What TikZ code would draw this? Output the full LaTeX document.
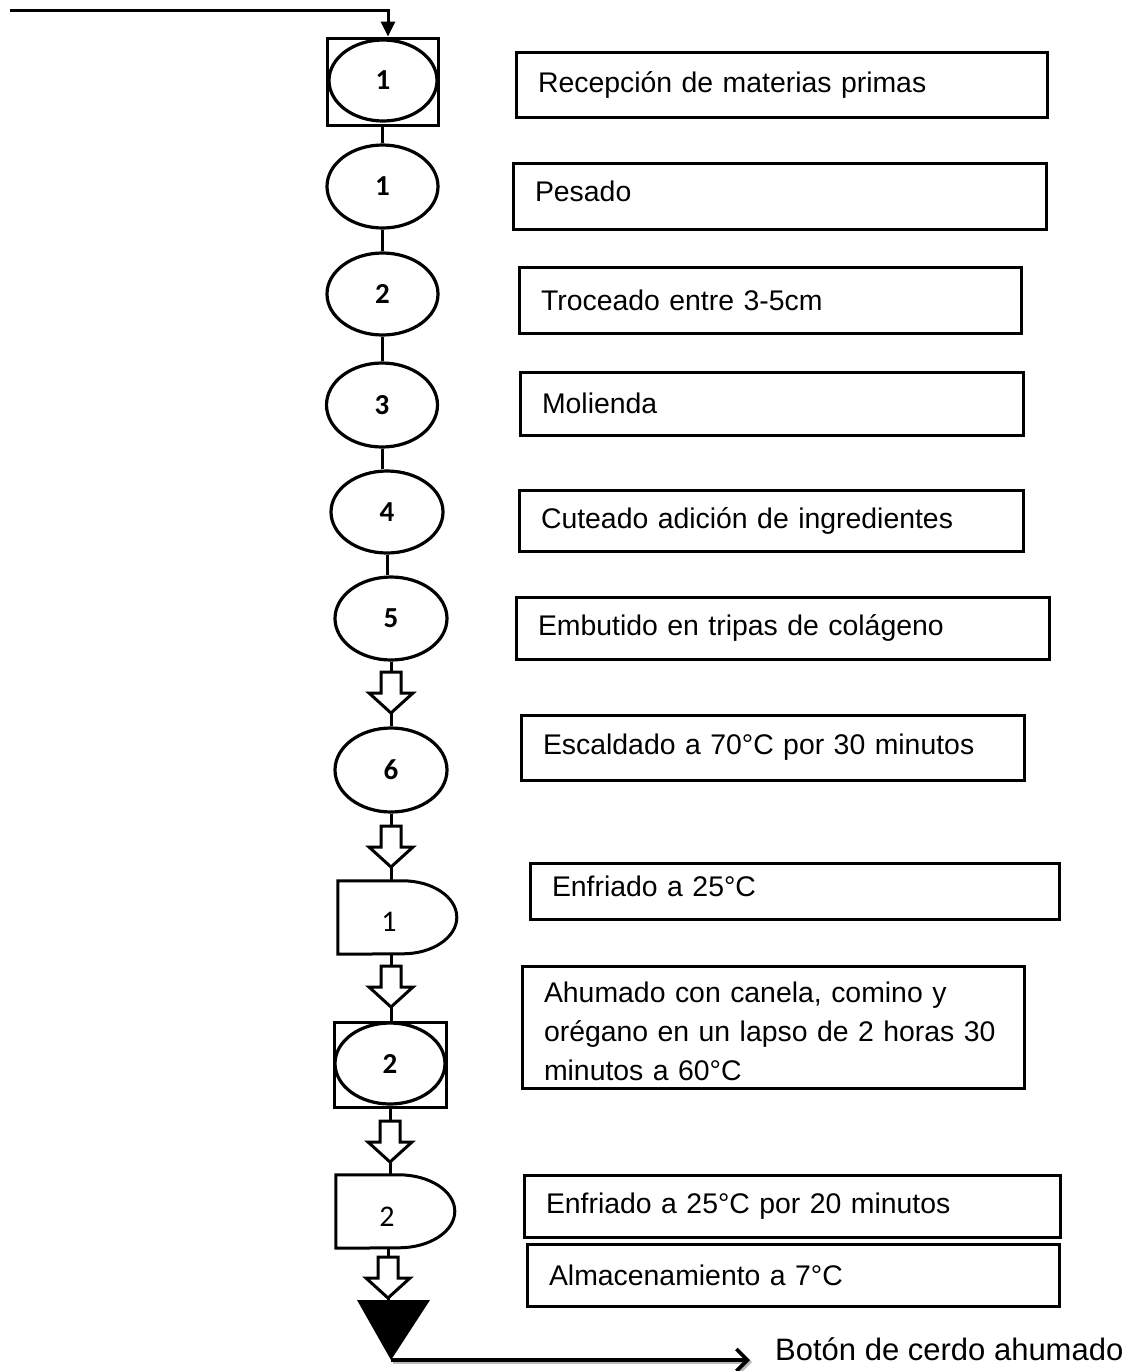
\documentclass[tikz,border=0pt]{standalone}
\usepackage{fontspec}
\setmainfont{Liberation Sans}
\newfontfamily\numfont{Carlito}
\usetikzlibrary{shapes.geometric,arrows.meta}

\tikzset{
 stepbox/.style={draw, line width=3pt, inner xsep=22pt, inner ysep=0pt, align=left, font=\fontsize{28.4}{39}\selectfont},
 opnode/.style={draw, ellipse, line width=3.2pt, inner sep=0pt, font=\numfont\bfseries\fontsize{29}{29}\selectfont},
 framebox/.style={draw, line width=3pt, inner sep=0pt},
 delaybox/.style={inner sep=0pt, minimum width=119pt, minimum height=73pt},
 delaynum/.style={inner sep=0pt, font=\numfont\fontsize{30}{30}\selectfont},
 link/.style={line width=3pt},
 hollow/.style={draw, line width=3pt, fill=white, line join=miter},
}

% hollow block arrow: name, top point
\newcommand{\blockarrow}[2]{%
 \coordinate (#1-top) at (#2);
 \draw[hollow] (#2) ++(-10,0) -- ++(0,21) -- ++(-12,0) -- ++(22,20) -- ++(22,-20) -- ++(-12,0) -- ++(0,-21) -- cycle;
 \path (#2) ++(0,41) coordinate (#1-tip);
}

\begin{document}
\begin{tikzpicture}[x=1pt,y=-1pt]
 \useasboundingbox (0,0) rectangle (1133,1371);

 % symbols
 \node[framebox, minimum width=111pt, minimum height=87pt] (f1) at (382.5,81.5) {};
 \node[opnode, minimum width=108pt, minimum height=81pt] (e0) at (383,80.5) {1};
 \node[opnode, minimum width=111pt, minimum height=83pt] (e1) at (382.5,186.5) {1};
 \node[opnode, minimum width=111pt, minimum height=82pt] (e2) at (382.5,294) {2};
 \node[opnode, minimum width=111pt, minimum height=84pt] (e3) at (382,405) {3};
 \node[opnode, minimum width=112pt, minimum height=82pt] (e4) at (387,512) {4};
 \node[opnode, minimum width=112pt, minimum height=83pt] (e5) at (391,618.5) {5};
 \node[opnode, minimum width=112pt, minimum height=84pt] (e6) at (391,770) {6};
 \node[delaybox] (d1) at (397.5,917.5) {};
 \draw[link, line join=miter] (d1.north west) -- ++(65,0) arc[start angle=90, end angle=-90, x radius=54pt, y radius=36.5pt] -- (d1.south west) -- cycle;
 \node[delaynum] (d1num) at (389,922) {1};
 \node[framebox, minimum width=112pt, minimum height=85pt] (f2) at (390,1064.5) {};
 \node[opnode, minimum width=110pt, minimum height=81pt] (e7) at (390,1063.5) {2};
 \node[delaybox] (d2) at (395.5,1211.5) {};
 \draw[link, line join=miter] (d2.north west) -- ++(63,0) arc[start angle=90, end angle=-90, x radius=56pt, y radius=36.5pt] -- (d2.south west) -- cycle;
 \node[delaynum] (d2num) at (387,1217) {2};

 % descriptions
 \node[stepbox, minimum width=531pt, minimum height=65pt, text width=487pt] (b0) at (781.5,84.5) {Recepción de materias primas};
 \node[stepbox, minimum width=533pt, minimum height=66pt, text width=489pt] (b1) at (779.5,196) {Pesado\rule[-10pt]{0pt}{0pt}};
 \node[stepbox, minimum width=502pt, minimum height=66pt, text width=458pt] (b2) at (770,300) {Troceado entre 3-5cm};
 \node[stepbox, minimum width=503pt, minimum height=63pt, text width=459pt] (b3) at (771.5,403.5) {Molienda};
 \node[stepbox, minimum width=504pt, minimum height=61pt, text width=460pt] (b4) at (771,520.5) {Cuteado adición de ingredientes};
 \node[stepbox, minimum width=533pt, minimum height=62pt, text width=489pt] (b5) at (782.5,628) {Embutido en tripas de colágeno};
 \node[stepbox, minimum width=503pt, minimum height=65pt, text width=459pt] (b6) at (772.5,747.5) {Escaldado a 70°C por 30 minutos};
 \node[stepbox, minimum width=529pt, minimum height=56pt, text width=485pt] (b7) at (794.5,891) {Enfriado a 25°C\rule[-9pt]{0pt}{0pt}};
 \node[stepbox, minimum width=502pt, minimum height=122pt, text width=458pt] (b8) at (773,1027) {\rule{0pt}{30pt}Ahumado con canela, comino y\\orégano en un lapso de 2 horas 30\\minutos a 60°C};
 \node[stepbox, minimum width=536pt, minimum height=62pt, text width=492pt] (b9) at (792,1206) {Enfriado a 25°C por 20 minutos};
 \node[stepbox, minimum width=532pt, minimum height=62pt, text width=488pt] (b10) at (793,1275) {Almacenamiento a 7°C};

 % entrada
 \coordinate (start) at (10,10);
 \coordinate (corner) at (388,10);
 \draw[link, -{Triangle[length=15pt,width=14pt]}] (start) -- (corner) -- (corner |- f1.north);

 % flujo
 \draw[link] (f1.south) -- (f1.south |- e1.north);
 \draw[link] (e1.south) -- (e1.south |- e2.north);
 \draw[link] (e2.south) -- (e2.south |- e3.north);
 \draw[link] (e3.south) -- (e3.south |- e4.north);
 \draw[link] (e4.south) -- (e4.south |- e5.north);
 \blockarrow{ar1}{391,672}
 \draw[link] (e5.south) -- (ar1-top);
 \draw[link] (ar1-tip) -- (e6.north);
 \blockarrow{ar2}{391,826}
 \draw[link] (e6.south) -- (ar2-top);
 \draw[link] (ar2-tip) -- (ar2-tip |- d1.north);
 \blockarrow{ar3}{391,966}
 \draw[link] (ar3-top |- d1.south) -- (ar3-top);
 \draw[link] (ar3-tip) -- (ar3-tip |- f2.north);
 \blockarrow{ar4}{390,1121}
 \draw[link] (ar4-top |- f2.south) -- (ar4-top);
 \draw[link] (ar4-tip) -- (ar4-tip |- d2.north);
 \blockarrow{ar5}{388,1257}
 \draw[link] (ar5-top |- d2.south) -- (ar5-top);

 % almacen
 \coordinate (tri-a) at (357,1300);
 \coordinate (tri-b) at (430,1300);
 \coordinate (tri-tip) at (391,1360);
 \fill (tri-a) -- (tri-b) -- (tri-tip) -- cycle;
 \draw[link] (ar5-tip) -- (ar5-tip |- tri-a);

 % producto
 \node[anchor=west, inner sep=0pt, font=\fontsize{31}{31}\selectfont] (prod) at (775,1349) {Botón de cerdo ahumado};
 \coordinate (end) at (750,1360);
 \draw[line width=4pt, gray!55, -{Straight Barb[length=11pt,width=22pt]}] ([shift={(2,2)}]tri-tip) -- ([shift={(2,2)}]end);
 \draw[line width=3.6pt, -{Straight Barb[length=11pt,width=22pt]}] (tri-tip) -- (end);
\end{tikzpicture}
\end{document}
